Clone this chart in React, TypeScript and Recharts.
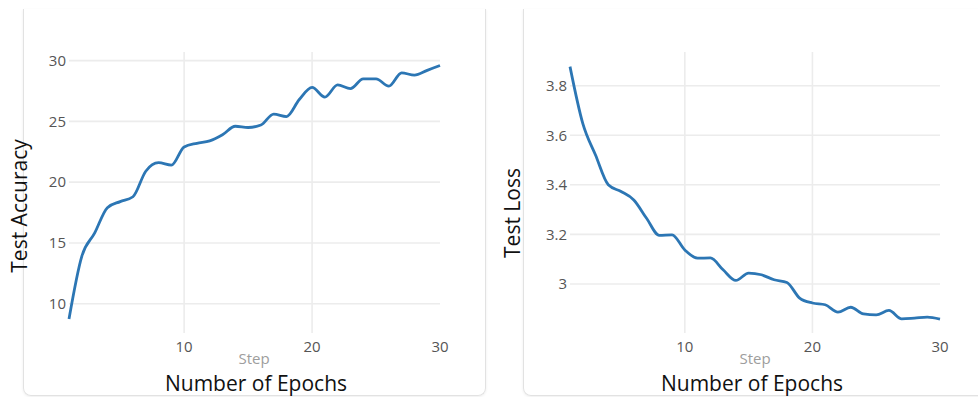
import React from "react";
import { LineChart, Line, XAxis, YAxis, CartesianGrid } from "recharts";

// Training curves, one point per epoch
const epochs = [
  1, 2, 3, 4, 5, 6, 7, 8, 9, 10, 11, 12, 13, 14, 15,
  16, 17, 18, 19, 20, 21, 22, 23, 24, 25, 26, 27, 28, 29, 30,
];
const testAccuracy = [
  8.75, 13.9, 15.8, 17.9, 18.4, 18.8, 20.9, 21.6, 21.4, 22.9,
  23.2, 23.4, 23.9, 24.6, 24.5, 24.7, 25.6, 25.4, 26.8, 27.8,
  27.0, 28.0, 27.7, 28.5, 28.5, 27.9, 29.0, 28.8, 29.2, 29.6,
];
const testLoss = [
  3.877, 3.648, 3.52, 3.4, 3.373, 3.339, 3.265, 3.196, 3.198, 3.137,
  3.104, 3.105, 3.057, 3.014, 3.044, 3.037, 3.017, 3.006, 2.943, 2.923,
  2.916, 2.886, 2.906, 2.879, 2.875, 2.893, 2.859, 2.862, 2.866, 2.858,
];

const xTicks = [10, 20, 30];
const accTicks = [10, 15, 20, 25, 30];
const lossTicks = [3, 3.2, 3.4, 3.6, 3.8];

const accData = epochs.map((epoch, i) => ({ epoch, value: testAccuracy[i] }));
const lossData = epochs.map((epoch, i) => ({ epoch, value: testLoss[i] }));

const FONT = "'Open Sans', 'Noto Sans', sans-serif";
const LINE = "#2c76b4";
const tickStyle = { fill: "#555555", fontSize: 15, fontFamily: FONT };

type PanelProps = {
  data: { epoch: number; value: number }[];
  yDomain: [number, number];
  yTicks: number[];
  width: number;
  left: number;
  rightMargin: number;
};

function Panel({ data, yDomain, yTicks, width, left, rightMargin }: PanelProps) {
  return (
    <LineChart
      width={width}
      height={397}
      data={data}
      margin={{ top: 52, right: rightMargin, bottom: 34, left: left - 40 }}
    >
      <CartesianGrid
        stroke="#ececec"
        strokeWidth={1.6}
        horizontalValues={yTicks}
        verticalValues={[10, 20]}
      />
      <XAxis
        type="number"
        dataKey="epoch"
        domain={[1, 30]}
        ticks={xTicks}
        axisLine={false}
        tickLine={false}
        tickSize={0}
        tickMargin={8}
        height={30}
        tick={tickStyle}
        interval={0}
      />
      <YAxis
        type="number"
        domain={yDomain}
        ticks={yTicks}
        allowDataOverflow
        axisLine={false}
        tickLine={false}
        tickSize={0}
        tickMargin={3}
        width={40}
        tick={tickStyle}
        interval={0}
      />
      <Line
        type="monotone"
        dataKey="value"
        stroke={LINE}
        strokeWidth={2.8}
        dot={false}
        activeDot={false}
        isAnimationActive={false}
      />
    </LineChart>
  );
}

const cardStyle: React.CSSProperties = {
  position: "absolute",
  top: 9,
  height: 386,
  border: "1px solid #e2e2e2",
  borderTop: "none",
  borderRadius: "0 0 8px 8px",
  boxShadow: "0 1px 3px rgba(0,0,0,0.07)",
};

export default function App() {
  return (
    <div
      style={{
        position: "absolute",
        left: 0,
        top: 0,
        width: 978,
        height: 397,
        overflow: "hidden",
        background: "#ffffff",
        fontFamily: FONT,
      }}
    >
      {/* card outlines */}
      <div style={{ ...cardStyle, left: 23, width: 461 }} />
      <div style={{ ...cardStyle, left: 523, width: 480 }} />

      <div style={{ position: "absolute", left: 0, top: 0 }}>
        <Panel
          data={accData}
          yDomain={[7.59, 30.71]}
          yTicks={accTicks}
          width={490}
          left={69}
          rightMargin={50}
        />
      </div>
      <div style={{ position: "absolute", left: 490, top: 0 }}>
        <Panel
          data={lossData}
          yDomain={[2.802, 3.936]}
          yTicks={lossTicks}
          width={488}
          left={80}
          rightMargin={38}
        />
      </div>

      <svg
        width={978}
        height={397}
        style={{ position: "absolute", left: 0, top: 0, pointerEvents: "none" }}
      >
        <g fontFamily={FONT}>
          <text x={254} y={363.5} textAnchor="middle" fontSize={15} fill="#9d9d9d">
            Step
          </text>
          <text x={256} y={391} textAnchor="middle" fontSize={21} fill="#111111">
            Number of Epochs
          </text>
          <text
            transform="translate(27,206) rotate(-90)"
            textAnchor="middle"
            fontSize={21}
            fill="#111111"
          >
            Test Accuracy
          </text>

          <text x={755} y={363.5} textAnchor="middle" fontSize={15} fill="#9d9d9d">
            Step
          </text>
          <text x={752} y={391} textAnchor="middle" fontSize={21} fill="#111111">
            Number of Epochs
          </text>
          <text
            transform="translate(520,213) rotate(-90)"
            textAnchor="middle"
            fontSize={21}
            fill="#111111"
          >
            Test Loss
          </text>
        </g>
      </svg>
    </div>
  );
}
